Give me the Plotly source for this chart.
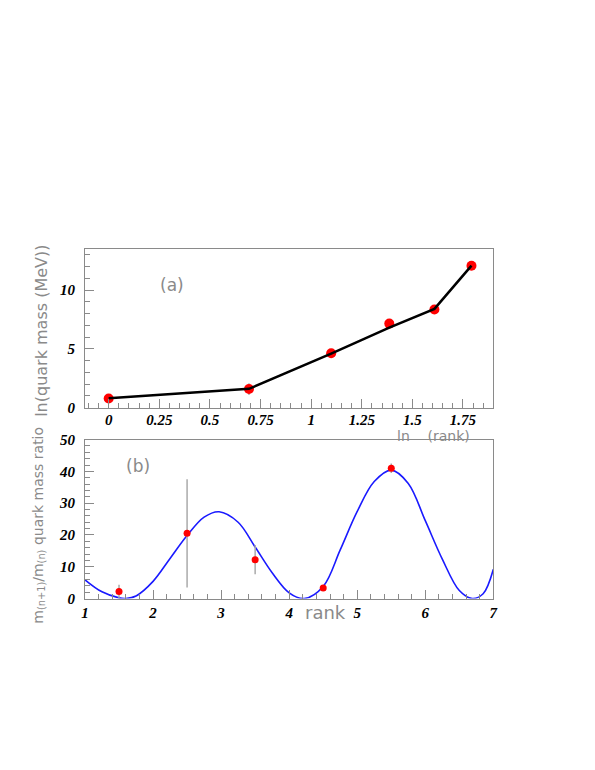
import plotly.graph_objects as go

# page body adds an 8px margin; figure sized to fill the rest of the window
OFF = 8
W, H = 595 - OFF, 770 - OFF

# ---- panel (a) data ----
ln_rank = [0.0, 0.693, 1.099, 1.386, 1.609, 1.792]
ln_mass = [0.78, 1.58, 4.62, 7.15, 8.35, 12.08]
ln_mass_err = [0.2, 0.5, 0.1, 0.05, 0.05, 0.05]
fit_a_x = [0.0, 0.693, 1.099, 1.386, 1.609, 1.792]
fit_a_y = [0.8, 1.6, 4.6, 6.8, 8.4, 12.08]

# ---- panel (b) data ----
rank_mid = [1.5, 2.5, 3.5, 4.5, 5.5]
mass_ratio = [2.2, 20.5, 12.2, 3.3, 41.0]
mass_ratio_err = [2.1, 17.0, 4.6, 0.8, 1.5]
curve_x = [1.0, 1.25, 1.5, 1.6, 1.75, 2.0, 2.25, 2.5, 2.75, 2.97, 3.25, 3.5,
           3.75, 4.0, 4.22, 4.5, 4.75, 5.0, 5.25, 5.5, 5.75, 6.0, 6.25, 6.5,
           6.69, 6.85, 7.0]
curve_y = [5.9, 2.1, 0.2, 0.0, 0.8, 5.4, 12.6, 19.8, 25.6, 27.3, 24.0, 16.2,
           8.1, 1.8, 0.0, 3.8, 15.3, 27.4, 36.8, 40.4, 36.2, 24.5, 12.4, 2.5,
           0.0, 1.5, 9.2]

top_xticks = [0, 0.25, 0.5, 0.75, 1, 1.25, 1.5, 1.75]
top_xlabels = ["0", "0.25", "0.5", "0.75", "1", "1.25", "1.5", "1.75"]

def px(x):
    return (x - OFF) / W

def py(y):
    return 1 - (y - OFF) / H

GRAY = "#8a8a8a"
tickfont = dict(family="Liberation Serif", size=15, color="black",
                weight="bold", style="italic")

fig = go.Figure()

fig.add_trace(go.Scatter(
    x=ln_rank, y=ln_mass, mode="markers",
    marker=dict(color="#ff0000", size=10),
    error_y=dict(type="data", array=ln_mass_err, color="#aaaaaa",
                 thickness=1.5, width=0),
    xaxis="x", yaxis="y", showlegend=False))
fig.add_trace(go.Scatter(
    x=fit_a_x, y=fit_a_y, mode="lines",
    line=dict(color="black", width=2.5),
    xaxis="x", yaxis="y", showlegend=False))

fig.add_trace(go.Scatter(
    x=curve_x, y=curve_y, mode="lines",
    line=dict(color="#1a1aff", width=1.6, shape="spline", smoothing=1.0),
    xaxis="x2", yaxis="y2", showlegend=False))
fig.add_trace(go.Scatter(
    x=rank_mid, y=mass_ratio, mode="markers",
    marker=dict(color="#ff0000", size=7),
    error_y=dict(type="data", array=mass_ratio_err, color="#aaaaaa",
                 thickness=1.5, width=0),
    xaxis="x2", yaxis="y2", showlegend=False))

xdom = [px(82), px(496)]
axis_common = dict(showline=True, linecolor=GRAY, linewidth=1, mirror=True,
                   showgrid=False, zeroline=False, ticks="inside",
                   ticklen=9, tickcolor=GRAY, tickfont=tickfont)

fig.update_layout(
    width=W, height=H,
    margin=dict(l=0, r=0, t=0, b=0),
    paper_bgcolor="white", plot_bgcolor="white",
    xaxis=dict(domain=xdom, range=[-0.117, 1.9], anchor="y",
               tickvals=top_xticks, ticktext=top_xlabels,
               ticklabelstandoff=-2,
               minor=dict(dtick=0.05, tick0=0, ticks="inside", ticklen=5,
                          tickcolor=GRAY, showgrid=False),
               **axis_common),
    yaxis=dict(domain=[py(408), py(246)], range=[0, 13.5], anchor="x",
               tickvals=[0, 5, 10], ticklabelstandoff=6,
               minor=dict(dtick=1, tick0=0, ticks="inside", ticklen=5,
                          tickcolor=GRAY, showgrid=False),
               **axis_common),
    xaxis2=dict(domain=xdom, range=[1, 7], anchor="y2",
                tickvals=[1, 2, 3, 4, 5, 6, 7],
                minor=dict(dtick=0.2, tick0=1, ticks="inside", ticklen=5,
                           tickcolor=GRAY, showgrid=False),
                **axis_common),
    yaxis2=dict(domain=[py(603), py(440.7)], range=[0, 50], anchor="x2",
                tickvals=[0, 10, 20, 30, 40, 50], ticklabelstandoff=6,
                minor=dict(dtick=2, tick0=0, ticks="inside", ticklen=5,
                           tickcolor=GRAY, showgrid=False),
                **axis_common),
)

lab = dict(family="DejaVu Sans", color=GRAY)
annos = [
    dict(text="(a)", x=px(170), y=py(283), font=dict(size=17, **lab)),
    dict(text="(b)", x=px(136), y=py(468), font=dict(size=17, **lab)),
    dict(text="ln&nbsp;&nbsp;&nbsp;&nbsp;(rank)", x=px(435), y=py(437),
         font=dict(size=14, **lab)),
    dict(text="rank", x=px(326), y=py(617), font=dict(size=18, **lab)),
    dict(text="ln(quark mass (MeV))", x=px(38), y=py(330), textangle=-90,
         font=dict(size=16, **lab)),
    dict(text="m<sub>(n+1)</sub>/m<sub>(n)</sub> quark mass ratio",
         x=px(35), y=py(528), textangle=-90, font=dict(size=14, **lab)),
]
for a in annos:
    fig.add_annotation(xref="paper", yref="paper", showarrow=False,
                       xanchor="center", yanchor="middle", **a)

fig.write_html("out.html")
